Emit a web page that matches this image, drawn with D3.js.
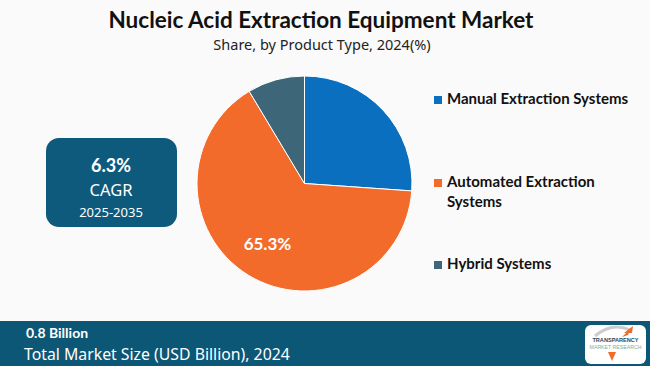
<!DOCTYPE html>
<html><head><meta charset="utf-8">
<script src="https://cdn.jsdelivr.net/npm/d3@7"></script>
<style>body{margin:0;background:#fafafa;}svg{display:block;}</style>
</head><body>
<script>
const categories = ["Manual Extraction Systems", "Automated Extraction Systems", "Hybrid Systems"];
const legendLines = [["Manual Extraction Systems"], ["Automated Extraction", "Systems"], ["Hybrid Systems"]];
const shares = [26.1, 65.3, 8.6];
const colors = ["#0A6FBF", "#F26B2B", "#3D6678"];
const shownLabels = ["", "65.3%", ""];
const title = "Nucleic Acid Extraction Equipment Market";
const subtitle = "Share, by Product Type, 2024(%)";
const cagrValue = "6.3%", cagrLabel = "CAGR", cagrYears = "2025-2035";
const marketValue = "0.8 Billion", marketLabel = "Total Market Size (USD Billion), 2024";

const W = 650, H = 366;
const svg = d3.select("body").append("svg").attr("width", W).attr("height", H);
svg.append("rect").attr("width", W).attr("height", H).attr("fill", "#fafafa");

svg.append("text").attr("x", 321).attr("y", 28).attr("text-anchor", "middle")
  .attr("font-family", "Lato").attr("font-weight", 700).attr("font-size", 22.5).attr("fill", "#111").text(title);
svg.append("text").attr("x", 322).attr("y", 50).attr("text-anchor", "middle")
  .attr("font-family", "'Noto Sans'").attr("font-size", 14.5).attr("fill", "#222").text(subtitle);

// pie
const cx = 304.5, cy = 183.5, R = 107.5;
const pie = d3.pie().sort(null).value(d => d)(shares);
const arc = d3.arc().innerRadius(0).outerRadius(R);
const g = svg.append("g").attr("transform", `translate(${cx},${cy})`);
g.selectAll("path").data(pie).join("path").attr("d", arc)
  .attr("fill", (d, i) => colors[i]).attr("stroke", "#fff").attr("stroke-width", 1);
const labArc = d3.arc().innerRadius(R * 0.66).outerRadius(R * 0.66);
g.selectAll("text.lab").data(pie).join("text").attr("class", "lab")
  .attr("transform", d => { const c = labArc.centroid(d); return `translate(${c[0]},${c[1]})`; })
  .attr("text-anchor", "middle").attr("dy", "0.35em")
  .attr("font-family", "Lato").attr("font-weight", 700).attr("font-size", 17).attr("fill", "#fff")
  .text((d, i) => shownLabels[i]);

// legend
const legY = [104, 187, 269];
const leg = svg.append("g");
legendLines.forEach((lines, i) => {
  leg.append("rect").attr("x", 434).attr("y", legY[i] - 8).attr("width", 8).attr("height", 8).attr("fill", colors[i]);
  lines.forEach((t, j) => {
    leg.append("text").attr("x", 447).attr("y", legY[i] + j * 20)
      .attr("font-family", "Lato").attr("font-weight", 700).attr("font-size", 15).attr("fill", "#111").text(t);
  });
});

// CAGR box
svg.append("rect").attr("x", 46).attr("y", 138).attr("width", 131).attr("height", 89).attr("rx", 13)
  .attr("fill", "#0E5A7C");
svg.append("text").attr("x", 111).attr("y", 172).attr("text-anchor", "middle")
  .attr("font-family", "Lato").attr("font-weight", 700).attr("font-size", 18).attr("fill", "#fff").text(cagrValue);
svg.append("text").attr("x", 111).attr("y", 196).attr("text-anchor", "middle")
  .attr("font-family", "'Noto Sans'").attr("font-size", 16.5).attr("fill", "#fff").text(cagrLabel);
svg.append("text").attr("x", 111).attr("y", 217).attr("text-anchor", "middle")
  .attr("font-family", "'Noto Sans'").attr("font-size", 13).attr("fill", "#fff").text(cagrYears);

// footer
svg.append("rect").attr("x", 0).attr("y", 321).attr("width", W).attr("height", 45).attr("fill", "#0C5676");
svg.append("text").attr("x", 26).attr("y", 338)
  .attr("font-family", "Lato").attr("font-weight", 700).attr("font-size", 14).attr("fill", "#fff").text(marketValue);
svg.append("text").attr("x", 24).attr("y", 360)
  .attr("font-family", "'Noto Sans'").attr("font-size", 15.8).attr("fill", "#fff").text(marketLabel);

// logo
const lg = svg.append("g");
lg.append("rect").attr("x", 585).attr("y", 325).attr("width", 61).attr("height", 39).attr("rx", 6).attr("fill", "#fff");
lg.append("path").attr("d", "M595,336 Q612,322 630,330").attr("fill", "none").attr("stroke", "#ccc").attr("stroke-width", 3);
lg.append("path").attr("d", "M622,337 L631,328 L628,335 Z M624,333 L633,326 L632,333 Z").attr("fill", "#F26B2B");
lg.append("text").attr("x", 615.5).attr("y", 342).attr("text-anchor", "middle")
  .attr("font-family", "'Liberation Sans'").attr("font-weight", 700).attr("font-size", 5.6).attr("fill", "#2a4a60").text("TRANSPARENCY");
lg.append("text").attr("x", 615.5).attr("y", 349).attr("text-anchor", "middle")
  .attr("font-family", "'Liberation Sans'").attr("font-size", 5.2).attr("fill", "#7ab0a0").text("MARKET RESEARCH");
lg.append("path").attr("d", "M608,352 L616,352 L612,361 Z").attr("fill", "#F26B2B");
</script>
</body></html>
